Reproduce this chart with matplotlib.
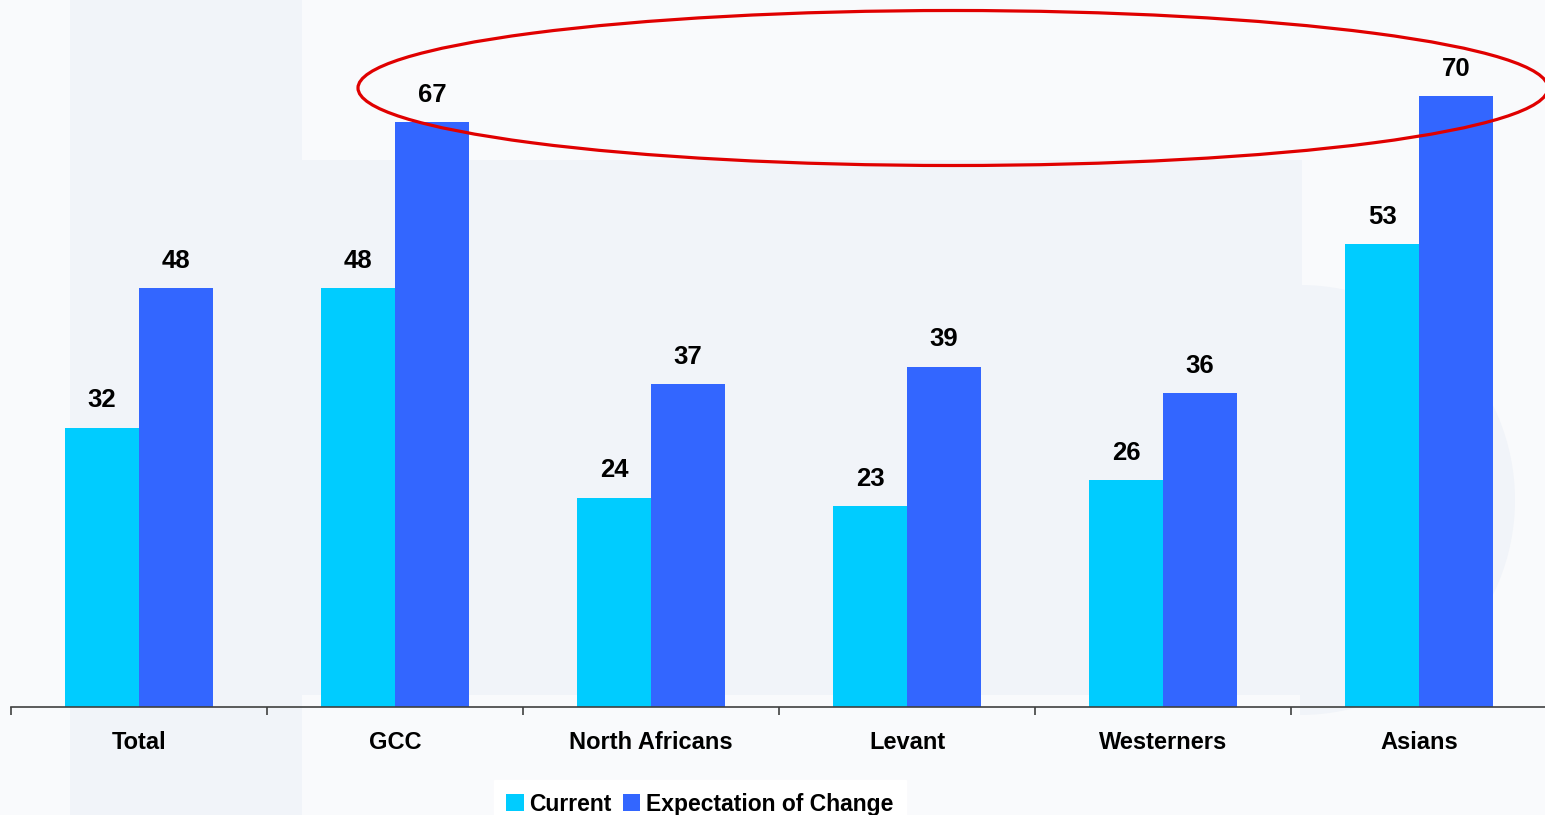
import numpy as np
import matplotlib
matplotlib.use('Agg')
import matplotlib.pyplot as plt
from matplotlib.patches import Ellipse, Rectangle, Wedge

plt.rcParams.update({'font.family': ['Liberation Sans', 'DejaVu Sans'], 'font.weight': 'bold'})

categories = ['Total', 'GCC', 'North Africans', 'Levant', 'Westerners', 'Asians']
current = [32, 48, 24, 23, 26, 53]
expectation = [48, 67, 37, 39, 36, 70]
series_names = ['Current', 'Expectation of Change']
CYAN = '#00CCFF'; BLUE = '#3366FF'

W, H = 1545, 815
fig = plt.figure(figsize=(W / 100, H / 100), dpi=100, facecolor='#F9FAFC')

# faint watermark behind the chart
bg = fig.add_axes([0, 0, 1, 1], zorder=0)
bg.set_xlim(0, W); bg.set_ylim(H, 0); bg.axis('off')
wm = '#F1F4F9'
bg.add_patch(Rectangle((70, 0), 232, H, color=wm, lw=0))
bg.add_patch(Rectangle((302, 160), 1000, 535, color=wm, lw=0))
bg.add_patch(Wedge((1300, 500), 215, -90, 90, color=wm, lw=0))

ax = fig.add_axes([11 / W, 1 - 707 / H, 1 - 11 / W, 707 / H], zorder=1)
ax.patch.set_alpha(0)
x = np.arange(len(categories))
bw = 0.288
b1 = ax.bar(x - bw / 2, current, bw, color=CYAN, label=series_names[0])
b2 = ax.bar(x + bw / 2, expectation, bw, color=BLUE, label=series_names[1])
for bars, vals in ((b1, current), (b2, expectation)):
    for r, v in zip(bars, vals):
        ax.annotate(f'{v}', (r.get_x() + r.get_width() / 2, v), xytext=(0, 11),
                    textcoords='offset points', ha='center', va='bottom',
                    fontsize=18.5, fontweight='bold')

ax.set_xlim(-0.5, 5.492)
ax.set_ylim(0, 81)
for s in ('top', 'right', 'left'):
    ax.spines[s].set_visible(False)
ax.spines['bottom'].set_color('#404040')
ax.spines['bottom'].set_linewidth(1.2)
ax.set_yticks([])
ax.set_xticks(x)
ax.set_xticklabels(categories, fontsize=17, fontweight='bold')
ax.tick_params(axis='x', which='major', length=0, pad=17.5)
ax.set_xticks(np.arange(-0.5, 5.5, 1.0), minor=True)
ax.tick_params(axis='x', which='minor', length=6, width=1.2, color='#404040', direction='out')

leg = fig.legend(handles=[b1, b2], loc='upper center', bbox_to_anchor=(700 / W, 1 - 780 / H),
                 ncol=2, fontsize=16.5, frameon=True, fancybox=False, framealpha=1,
                 facecolor='white', edgecolor='white', handlelength=0.75, handleheight=0.75,
                 handletextpad=0.25, columnspacing=0.5, borderpad=0.55, borderaxespad=0)
leg.set_zorder(3)

# red highlight ellipse
ov = fig.add_axes([0, 0, 1, 1], zorder=4)
ov.set_xlim(0, W); ov.set_ylim(H, 0); ov.axis('off'); ov.patch.set_alpha(0)
ov.add_patch(Ellipse((953, 88), 1190, 155, fill=False, edgecolor='#E00000', lw=2.3))

fig.savefig('out.png', dpi=100, facecolor=fig.get_facecolor())
